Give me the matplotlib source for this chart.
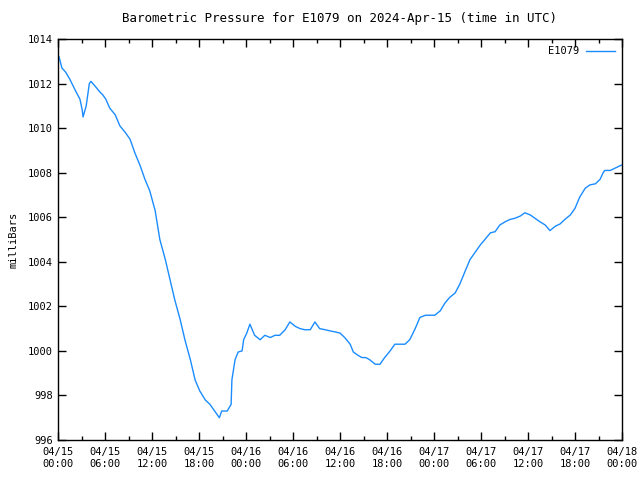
import matplotlib
matplotlib.use("Agg")
import matplotlib.pyplot as plt
from matplotlib.ticker import MultipleLocator

# hours since 2024-04-15 00:00 UTC
hours = [0.13, 0.5, 1.0, 1.5, 2.2, 2.8, 3.1, 3.2, 3.6, 4.0, 4.2, 4.7, 5.4, 5.7, 6.1,
         6.6, 7.3, 7.9, 8.6, 9.2, 9.8, 10.5, 11.1, 11.7, 12.4, 13.0, 13.7, 14.3, 14.9,
         15.6, 16.2, 16.9, 17.5, 18.1, 18.8, 19.4, 20.0, 20.6, 20.9, 21.6, 22.1, 22.2,
         22.6, 23.0, 23.5, 23.7, 24.1, 24.5, 25.1, 25.8, 26.4, 27.1, 27.7, 28.3, 29.0,
         29.6, 30.3, 30.9, 31.5, 32.2, 32.8, 33.4, 34.1, 34.7, 35.4, 36.0, 36.6, 37.3,
         37.7, 38.3, 38.8, 39.3, 39.8, 40.5, 41.1, 41.7, 42.4, 43.0, 43.7, 44.3, 44.9,
         45.6, 46.2, 46.9, 47.5, 48.1, 48.8, 49.4, 50.0, 50.7, 51.3, 52.0, 52.6, 53.2,
         53.9, 54.5, 55.2, 55.8, 56.4, 57.1, 57.7, 58.3, 59.0, 59.6, 60.3, 60.9, 61.5,
         62.2, 62.8, 63.5, 64.1, 64.7, 65.4, 66.0, 66.6, 67.3, 67.9, 68.6, 69.2, 69.6,
         69.8, 70.5, 71.1, 71.7, 72.0]
pressure = [1013.2, 1012.7, 1012.5, 1012.2, 1011.7, 1011.3, 1010.8, 1010.5, 1011.0,
            1012.0, 1012.1, 1011.9, 1011.6, 1011.5, 1011.3, 1010.9, 1010.6, 1010.1,
            1009.8, 1009.5, 1008.9, 1008.3, 1007.7, 1007.2, 1006.3, 1005.0, 1004.1,
            1003.2, 1002.3, 1001.4, 1000.5, 999.6, 998.7, 998.2, 997.8, 997.6, 997.3,
            997.0, 997.3, 997.3, 997.6, 998.7, 999.6, 999.95, 1000.0, 1000.5, 1000.8,
            1001.2, 1000.7, 1000.5, 1000.7, 1000.6, 1000.7, 1000.7, 1000.95, 1001.3,
            1001.1, 1001.0, 1000.95, 1000.95, 1001.3, 1001.0, 1000.95, 1000.9, 1000.85,
            1000.8, 1000.6, 1000.3, 999.95, 999.8, 999.7, 999.7, 999.6, 999.4, 999.4,
            999.7, 1000.0, 1000.3, 1000.3, 1000.3, 1000.5, 1001.0, 1001.5, 1001.6,
            1001.6, 1001.6, 1001.8, 1002.15, 1002.4, 1002.6, 1003.0, 1003.6, 1004.1,
            1004.4, 1004.75, 1005.0, 1005.3, 1005.35, 1005.65, 1005.8, 1005.9, 1005.95,
            1006.05, 1006.2, 1006.1, 1005.95, 1005.8, 1005.65, 1005.4, 1005.6, 1005.7,
            1005.9, 1006.1, 1006.4, 1006.9, 1007.3, 1007.45, 1007.5, 1007.7, 1008.0,
            1008.1, 1008.1, 1008.2, 1008.3, 1008.35]

tick_hours = list(range(0, 73, 6))
tick_labels = ["04/15\n00:00", "04/15\n06:00", "04/15\n12:00", "04/15\n18:00",
               "04/16\n00:00", "04/16\n06:00", "04/16\n12:00", "04/16\n18:00",
               "04/17\n00:00", "04/17\n06:00", "04/17\n12:00", "04/17\n18:00",
               "04/18\n00:00"]

plt.rcParams['font.family'] = 'DejaVu Sans Mono'
plt.rcParams['font.size'] = 7.5

fig = plt.figure(figsize=(6.4, 4.8), dpi=100)
ax = fig.add_axes([58 / 640, 40 / 480, 564 / 640, 401 / 480])
ax.plot(hours, pressure, color='#1a8cff', linewidth=1, label='E1079')

ax.set_xlim(0, 72)
ax.set_ylim(996, 1014)
ax.set_xticks(tick_hours)
ax.set_xticklabels(tick_labels)
ax.xaxis.set_minor_locator(MultipleLocator(3))
ax.yaxis.set_major_locator(MultipleLocator(2))
ax.tick_params(which='both', direction='in', top=True, right=True, width=1)
ax.tick_params(which='major', length=6)
ax.tick_params(which='minor', length=3)
ax.tick_params(axis='x', pad=5)
for s in ax.spines.values():
    s.set_linewidth(1)

ax.set_ylabel('milliBars', labelpad=7)
ax.set_title('Barometric Pressure for E1079 on 2024-Apr-15 (time in UTC)', pad=12)
ax.legend(loc='upper right', frameon=False, markerfirst=False, handlelength=2.8,
          borderaxespad=0.3, handletextpad=0.6)

fig.savefig('out.png', dpi=100)
